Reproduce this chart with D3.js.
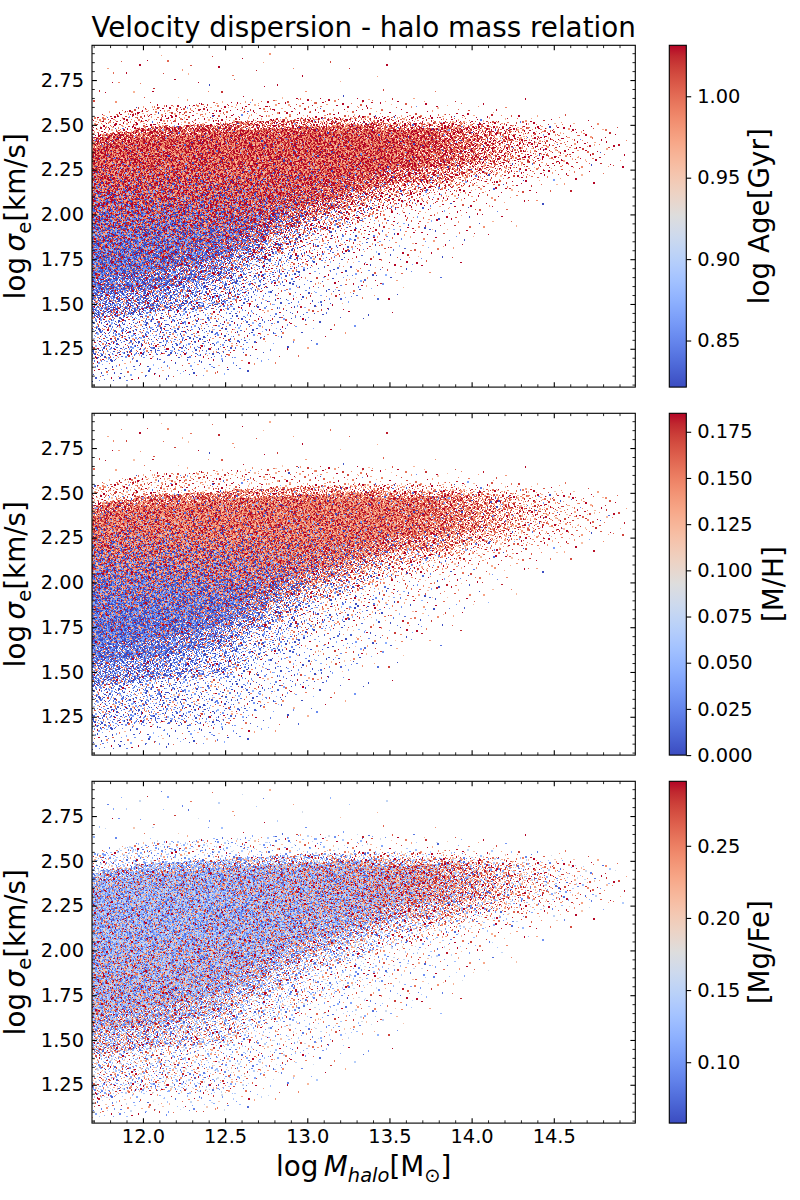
<!DOCTYPE html>
<html><head><meta charset="utf-8">
<script src="https://cdn.jsdelivr.net/npm/d3@7"></script>
<style>
body{margin:0;background:#fff}
svg{display:block}
text{font-family:"DejaVu Sans",sans-serif;fill:#000}
</style>
</head><body>
<svg id="fig" width="800" height="1200"></svg>
<script>
// ---------------- DATA ----------------
// halo-mass bins (centre, 0.1 dex wide)
const xBinCenters = [11.7,11.8,11.9,12.0,12.1,12.2,12.3,12.4,12.5,12.6,12.7,12.8,12.9,13.0,13.1,13.2,13.3,13.4,13.5,13.6,13.7,13.8,13.9,14.0,14.1,14.2,14.3,14.4,14.5,14.6,14.7,14.8,14.9];
// galaxies per bin
const binCounts = [8100,7750,7400,6900,6400,5900,5400,4900,4400,3950,3550,3200,2900,2550,2250,2000,1750,1500,1170,990,830,680,550,380,290,220,160,115,80,55,35,20,10];
// quantile levels of log sigma within each mass bin
const quantileLevels = [0,0.002,0.018,0.04,0.07,0.12,0.25,0.5,0.75,0.93,0.975,0.993,0.9993,1];
// log sigma_e at those quantiles, one row per mass bin
const sigmaQuantiles = [
[1.06,1.17,1.42,1.55,1.65,1.74,1.86,2.01,2.19,2.31,2.37,2.43,2.54,2.85],
[1.07,1.18,1.43,1.56,1.66,1.75,1.87,2.03,2.21,2.33,2.39,2.45,2.56,2.87],
[1.07,1.20,1.44,1.57,1.67,1.76,1.89,2.05,2.22,2.34,2.40,2.46,2.58,2.88],
[1.08,1.21,1.45,1.58,1.68,1.77,1.90,2.07,2.24,2.36,2.42,2.48,2.60,2.90],
[1.08,1.21,1.46,1.59,1.69,1.79,1.92,2.09,2.25,2.37,2.43,2.49,2.61,2.90],
[1.09,1.21,1.46,1.60,1.71,1.80,1.94,2.11,2.27,2.38,2.44,2.49,2.61,2.90],
[1.09,1.20,1.47,1.62,1.72,1.82,1.96,2.13,2.28,2.39,2.44,2.50,2.62,2.90],
[1.10,1.20,1.47,1.63,1.74,1.83,1.98,2.15,2.30,2.40,2.45,2.50,2.62,2.90],
[1.10,1.20,1.48,1.64,1.75,1.85,2.00,2.17,2.31,2.41,2.46,2.51,2.63,2.90],
[1.12,1.24,1.52,1.69,1.80,1.89,2.03,2.19,2.32,2.42,2.47,2.52,2.63,2.90],
[1.15,1.28,1.57,1.74,1.84,1.93,2.07,2.21,2.34,2.43,2.47,2.52,2.64,2.90],
[1.17,1.32,1.61,1.78,1.89,1.98,2.10,2.24,2.35,2.43,2.48,2.53,2.64,2.90],
[1.20,1.36,1.66,1.83,1.93,2.02,2.14,2.26,2.37,2.44,2.48,2.53,2.65,2.90],
[1.22,1.40,1.70,1.88,1.98,2.06,2.17,2.28,2.38,2.45,2.49,2.54,2.65,2.90],
[1.27,1.44,1.73,1.91,2.00,2.08,2.19,2.29,2.39,2.45,2.49,2.54,2.65,2.89],
[1.31,1.49,1.76,1.94,2.03,2.10,2.20,2.30,2.39,2.46,2.50,2.54,2.65,2.88],
[1.36,1.53,1.79,1.96,2.05,2.13,2.22,2.31,2.40,2.46,2.50,2.55,2.65,2.87],
[1.40,1.58,1.82,1.99,2.08,2.15,2.23,2.32,2.40,2.47,2.51,2.55,2.65,2.86],
[1.45,1.62,1.85,2.02,2.10,2.17,2.25,2.33,2.41,2.47,2.51,2.55,2.65,2.85],
[1.51,1.67,1.88,2.04,2.11,2.18,2.26,2.34,2.41,2.47,2.51,2.55,2.65,2.82],
[1.57,1.71,1.91,2.05,2.12,2.18,2.26,2.34,2.42,2.48,2.51,2.55,2.64,2.80],
[1.63,1.76,1.94,2.07,2.14,2.19,2.27,2.35,2.42,2.48,2.52,2.56,2.64,2.77],
[1.69,1.80,1.97,2.08,2.15,2.20,2.27,2.35,2.43,2.49,2.52,2.56,2.63,2.75],
[1.75,1.85,2.00,2.10,2.16,2.21,2.28,2.36,2.43,2.49,2.52,2.56,2.63,2.72],
[1.81,1.90,2.03,2.12,2.17,2.22,2.28,2.36,2.43,2.49,2.52,2.56,2.62,2.70],
[1.87,1.95,2.06,2.14,2.18,2.23,2.29,2.36,2.43,2.49,2.52,2.56,2.61,2.68],
[1.93,2.00,2.09,2.15,2.20,2.23,2.29,2.37,2.43,2.49,2.52,2.55,2.61,2.66],
[1.99,2.05,2.12,2.17,2.21,2.24,2.30,2.37,2.43,2.49,2.52,2.55,2.60,2.64],
[2.05,2.10,2.15,2.19,2.22,2.25,2.30,2.37,2.43,2.49,2.52,2.55,2.59,2.62],
[2.09,2.13,2.17,2.21,2.23,2.26,2.30,2.37,2.43,2.49,2.51,2.54,2.57,2.60],
[2.13,2.16,2.19,2.22,2.24,2.26,2.30,2.37,2.43,2.48,2.51,2.53,2.55,2.57],
[2.16,2.19,2.22,2.24,2.26,2.27,2.31,2.37,2.42,2.48,2.50,2.52,2.53,2.55],
[2.20,2.22,2.24,2.26,2.27,2.28,2.31,2.37,2.42,2.47,2.49,2.50,2.51,2.52]
];
// colour mixing: fraction of galaxies in the "high" population, per mass node x sigma level
const colourXNodes = [11.7,12.2,12.7,13.2,13.7,14.2,14.7];
const colourYLevels = [1.3,1.6,1.9,2.1,2.3,2.5];
const ageOldFraction = [
[0.35,0.28,0.40,0.70,0.92,0.97],
[0.35,0.30,0.45,0.75,0.93,0.97],
[0.40,0.35,0.55,0.80,0.94,0.97],
[0.50,0.50,0.65,0.86,0.95,0.97],
[0.60,0.60,0.75,0.90,0.96,0.97],
[0.70,0.70,0.85,0.93,0.97,0.97],
[0.80,0.80,0.90,0.95,0.97,0.97]];
const mhRichFraction = [
[0.30,0.20,0.30,0.55,0.85,0.95],
[0.30,0.20,0.32,0.60,0.87,0.95],
[0.35,0.30,0.42,0.68,0.90,0.95],
[0.45,0.45,0.55,0.76,0.92,0.95],
[0.55,0.55,0.65,0.85,0.94,0.95],
[0.65,0.65,0.75,0.90,0.95,0.95],
[0.70,0.70,0.80,0.90,0.95,0.95]];
const mgfeHighFraction = [
[0.45,0.40,0.32,0.25,0.22,0.30],
[0.45,0.40,0.32,0.25,0.22,0.30],
[0.45,0.42,0.35,0.28,0.28,0.35],
[0.50,0.45,0.40,0.35,0.38,0.45],
[0.55,0.52,0.52,0.55,0.60,0.65],
[0.65,0.65,0.65,0.68,0.70,0.70],
[0.65,0.65,0.65,0.68,0.70,0.70]];
// [centre, half-width] of each population's value
const ageLow = [0.835,0.045], ageHigh = [1.01,0.05];
const mhLow  = [0.015,0.035], mhHigh = [0.155,0.04];
const mgfeLow = [0.12,0.05], mgfeHigh = [0.255,0.055];
// axes / colourbars
const xDomain = [11.69,14.996];
const yDomain = [1.036,2.944];
const xTicks = [12.0,12.5,13.0,13.5,14.0,14.5];
const yTicks = [1.25,1.50,1.75,2.00,2.25,2.50,2.75];
const ageRange = [0.8214,1.0313], ageTicks = [0.85,0.90,0.95,1.00];
const mhRange = [0,0.185], mhTicks = [0,0.025,0.05,0.075,0.1,0.125,0.15,0.175];
const mgfeRange = [0.0578,0.2947], mgfeTicks = [0.10,0.15,0.20,0.25];

// ---------------- colormap (matplotlib coolwarm) ----------------
const coolwarmStops = [
[0.2298,0.2987,0.7537],[0.2662,0.3531,0.8015],[0.3039,0.4065,0.8450],[0.3428,0.4588,0.8837],
[0.3830,0.5094,0.9174],[0.4244,0.5581,0.9456],[0.4667,0.6046,0.9682],[0.5096,0.6483,0.9848],
[0.5530,0.6889,0.9954],[0.5963,0.7261,0.9998],[0.6392,0.7596,0.9982],[0.6813,0.7890,0.9904],
[0.7222,0.8140,0.9766],[0.7615,0.8343,0.9569],[0.7987,0.8498,0.9317],[0.8335,0.8602,0.9010],
[0.8654,0.8654,0.8654],[0.8978,0.8489,0.8209],[0.9241,0.8274,0.7745],[0.9445,0.8009,0.7267],
[0.9589,0.7698,0.6780],[0.9673,0.7341,0.6288],[0.9700,0.6943,0.5794],[0.9668,0.6504,0.5303],
[0.9580,0.6028,0.4818],[0.9437,0.5518,0.4342],[0.9239,0.4973,0.3880],[0.8990,0.4396,0.3432],
[0.8692,0.3783,0.3003],[0.8346,0.3129,0.2593],[0.7956,0.2413,0.2205],[0.7525,0.1572,0.1841],
[0.7057,0.0156,0.1502]].map(c=>d3.rgb(c[0]*255,c[1]*255,c[2]*255).formatHex());
const coolwarm = d3.scaleLinear().domain(d3.range(33).map(i=>i/32)).range(coolwarmStops)
  .interpolate(d3.interpolateRgb).clamp(true);
const LUT = d3.range(256).map(i=>coolwarm(i/255));

// ---------------- layout ----------------
const W=800,H=1200;
const axL=92, axR=635.3, axH=341.8;
const panelTops=[45.3,413.3,781.3];
const cbL=669.3, cbW=17;
const FS_TICK=19.4, FS_LAB=27.8;

const svg=d3.select("#fig");
const x=d3.scaleLinear().domain(xDomain).range([axL,axR]);

const panels=[
 {range:ageRange,ticks:ageTicks,fmt:".2f",frac:ageOldFraction,lo:ageLow,hi:ageHigh,label:"log Age[Gyr]",lx:769},
 {range:mhRange,ticks:mhTicks,fmt:".3f",frac:mhRichFraction,lo:mhLow,hi:mhHigh,label:"[M/H]",lx:783},
 {range:mgfeRange,ticks:mgfeTicks,fmt:".2f",frac:mgfeHighFraction,lo:mgfeLow,hi:mgfeHigh,label:"[Mg/Fe]",lx:769}
];

// deterministic low-discrepancy sequence for placing galaxies inside each bin
function halton(i,b){let f=1,r=0;while(i>0){f/=b;r+=f*(i%b);i=Math.floor(i/b);}return r;}

// build galaxy positions from the binned distribution
const galaxies=[];
let gi=1;
xBinCenters.forEach((xc,c)=>{
  const inv=d3.scaleLinear().domain(quantileLevels).range(sigmaQuantiles[c]);
  for(let k=0;k<binCounts[c];k++,gi++){
    galaxies.push({x:xc+(halton(gi,3)-0.5)*0.1, y:inv(halton(gi,2)), m:halton(gi,5), j:halton(gi,7)});
  }
});

const fxIdx=d3.scaleLinear().domain(colourXNodes).range(d3.range(colourXNodes.length)).clamp(true);
const fyIdx=d3.scaleLinear().domain(colourYLevels).range(d3.range(colourYLevels.length)).clamp(true);
function frac(tab,xv,yv){
  const fi=fxIdx(xv), fj=fyIdx(yv);
  const i0=Math.floor(fi), j0=Math.floor(fj);
  const i1=Math.min(i0+1,tab.length-1), j1=Math.min(j0+1,tab[0].length-1);
  const a=fi-i0,b=fj-j0;
  return tab[i0][j0]*(1-a)*(1-b)+tab[i1][j0]*a*(1-b)+tab[i0][j1]*(1-a)*b+tab[i1][j1]*a*b;
}

// canvas layer for the dense scatter
const canvas=document.createElement("canvas");
canvas.width=W;canvas.height=H;
const ctx=canvas.getContext("2d");

panels.forEach((p,pi)=>{
  const top=panelTops[pi];
  const y=d3.scaleLinear().domain(yDomain).range([top+axH,top]);
  const cnorm=d3.scaleLinear().domain(p.range).range([0,1]).clamp(true);
  ctx.save();
  ctx.beginPath();ctx.rect(axL,top,axR-axL,axH);ctx.clip();
  galaxies.forEach(g=>{
    const f=frac(p.frac,g.x,g.y);
    const comp=g.m<f?p.hi:p.lo;
    const v=comp[0]+comp[1]*(2*g.j-1);
    ctx.fillStyle=LUT[Math.round(cnorm(v)*255)];
    const px=x(g.x), py=y(g.y);
    const x0=Math.round(px-0.7), x1=Math.max(x0+1,Math.round(px+0.7));
    const y0=Math.round(py-0.7), y1=Math.max(y0+1,Math.round(py+0.7));
    ctx.fillRect(x0,y0,x1-x0,y1-y0);
  });
  ctx.restore();
});
svg.append("image").attr("x",0).attr("y",0).attr("width",W).attr("height",H)
  .attr("href",canvas.toDataURL());

// gradient for colourbars
const defs=svg.append("defs");
const grad=defs.append("linearGradient").attr("id","cw").attr("x1",0).attr("y1",1).attr("x2",0).attr("y2",0);
coolwarmStops.forEach((c,i)=>grad.append("stop").attr("offset",i/32).attr("stop-color",c));

const xMinor=d3.range(117,150).map(v=>v/10).filter(v=>!xTicks.some(t=>Math.abs(t-v)<1e-6));
const yMinor=d3.range(21,59).map(v=>v/20).filter(v=>!yTicks.some(t=>Math.abs(t-v)<1e-6));

function styleAxis(g,fs){
  g.select(".domain").remove();
  g.attr("font-family","DejaVu Sans").attr("font-size",fs);
  g.selectAll(".tick line").attr("stroke","#000").attr("stroke-width",1.1);
  g.selectAll(".tick text").attr("fill","#000");
}
function styleMinor(g){
  g.select(".domain").remove();
  g.selectAll(".tick line").attr("stroke","#000").attr("stroke-width",0.85);
}

panels.forEach((p,pi)=>{
  const top=panelTops[pi], bot=top+axH;
  const y=d3.scaleLinear().domain(yDomain).range([bot,top]);
  const isBottom=pi===2;
  // left
  svg.append("g").attr("transform",`translate(${axL},0)`)
    .call(d3.axisLeft(y).tickValues(yTicks).tickSize(-4.9).tickPadding(8).tickFormat(d3.format(".2f")))
    .call(g=>styleAxis(g,FS_TICK));
  svg.append("g").attr("transform",`translate(${axL},0)`)
    .call(d3.axisLeft(y).tickValues(yMinor).tickSize(-2.8).tickFormat(""))
    .call(styleMinor);
  // right
  svg.append("g").attr("transform",`translate(${axR},0)`)
    .call(d3.axisRight(y).tickValues(yTicks).tickSize(-4.9).tickFormat(""))
    .call(g=>styleAxis(g,FS_TICK));
  svg.append("g").attr("transform",`translate(${axR},0)`)
    .call(d3.axisRight(y).tickValues(yMinor).tickSize(-2.8).tickFormat(""))
    .call(styleMinor);
  // bottom
  svg.append("g").attr("transform",`translate(0,${bot})`)
    .call(d3.axisBottom(x).tickValues(xTicks).tickSize(-4.9).tickPadding(5.7)
      .tickFormat(isBottom?d3.format(".1f"):""))
    .call(g=>styleAxis(g,FS_TICK));
  svg.append("g").attr("transform",`translate(0,${bot})`)
    .call(d3.axisBottom(x).tickValues(xMinor).tickSize(-2.8).tickFormat(""))
    .call(styleMinor);
  // top
  svg.append("g").attr("transform",`translate(0,${top})`)
    .call(d3.axisTop(x).tickValues(xTicks).tickSize(-4.9).tickFormat(""))
    .call(g=>styleAxis(g,FS_TICK));
  svg.append("g").attr("transform",`translate(0,${top})`)
    .call(d3.axisTop(x).tickValues(xMinor).tickSize(-2.8).tickFormat(""))
    .call(styleMinor);
  // frame
  svg.append("rect").attr("x",axL).attr("y",top).attr("width",axR-axL).attr("height",axH)
    .attr("fill","none").attr("stroke","#000").attr("stroke-width",1.1);

  // y label: log σ_e [km/s]
  const yl=svg.append("text").attr("transform",`translate(25,${top+axH/2}) rotate(-90)`)
    .attr("text-anchor","middle").attr("font-size",FS_LAB);
  yl.append("tspan").text("log\u2009");
  yl.append("tspan").attr("font-style","italic").text("σ");
  yl.append("tspan").attr("font-size",FS_LAB*0.7).attr("dy",FS_LAB*0.2).text("e");
  yl.append("tspan").attr("dy",-FS_LAB*0.2).text("[km/s]");

  // colourbar
  const cy=d3.scaleLinear().domain(p.range).range([bot,top]);
  svg.append("rect").attr("x",cbL).attr("y",top).attr("width",cbW).attr("height",axH)
    .attr("fill","url(#cw)").attr("stroke","#000").attr("stroke-width",1.1);
  svg.append("g").attr("transform",`translate(${cbL+cbW},0)`)
    .call(d3.axisRight(cy).tickValues(p.ticks).tickSize(4.9).tickPadding(6).tickFormat(d3.format(p.fmt)))
    .call(g=>styleAxis(g,FS_TICK));
  svg.append("text").attr("transform",`translate(${p.lx},${top+axH/2}) rotate(-90)`)
    .attr("text-anchor","middle").attr("font-size",FS_LAB).text(p.label);
});

// title
svg.append("text").attr("x",(axL+axR)/2).attr("y",37).attr("text-anchor","middle")
  .attr("font-size",FS_LAB).text("Velocity dispersion - halo mass relation");

// x label: log M_halo [M_sun]
const xl=svg.append("text").attr("x",(axL+axR)/2).attr("y",1176).attr("text-anchor","middle").attr("font-size",FS_LAB);
xl.append("tspan").text("log\u2009");
xl.append("tspan").attr("font-style","italic").text("M");
xl.append("tspan").attr("font-style","italic").attr("font-size",FS_LAB*0.7).attr("dy",FS_LAB*0.2).text("halo");
xl.append("tspan").attr("dy",-FS_LAB*0.2).text("[M");
xl.append("tspan").attr("font-size",FS_LAB*0.7).attr("dy",FS_LAB*0.2).text("\u2299");
xl.append("tspan").attr("dy",-FS_LAB*0.2).text("]");
</script>
</body></html>
